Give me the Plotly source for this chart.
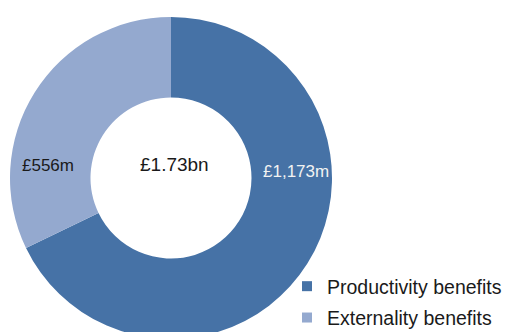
import plotly.graph_objects as go

categories = ["Productivity benefits", "Externality benefits"]
values = [1173, 556]
value_labels = ["£1,173m", "£556m"]
total_label = "£1.73bn"
colors = ["#4672A6", "#94A9CF"]

W, H = 505, 350

fig = go.Figure()
fig.add_trace(go.Pie(
    labels=categories, values=values, sort=False, direction="clockwise",
    rotation=0, hole=0.5, textinfo="none", showlegend=False,
    marker=dict(colors=colors, line=dict(width=0)),
    domain=dict(x=[10 / W, 332 / W], y=[1 - 339 / H, 1 - 17 / H]),
))

# legend entries
for i, (cat, col) in enumerate(zip(categories, colors)):
    fig.add_trace(go.Scatter(
        x=[None], y=[None], mode="markers", name=cat, legendgroup=cat,
        marker=dict(symbol="square", size=10, color=col),
    ))

def px(x, y):
    return x / W, 1 - y / H

ann = []
x, y = px(296, 171)
ann.append(dict(x=x, y=y, text=value_labels[0], font=dict(color="#F2F2F2", size=17)))
x, y = px(48, 165)
ann.append(dict(x=x, y=y, text=value_labels[1], font=dict(color="#1A1A1A", size=17)))
x, y = px(174, 164)
ann.append(dict(x=x, y=y, text=total_label, font=dict(color="#1A1A1A", size=19)))
for a in ann:
    a.update(xref="paper", yref="paper", showarrow=False, xanchor="center", yanchor="middle")

fig.update_layout(
    width=W, height=H, margin=dict(l=0, r=0, t=0, b=0, autoexpand=False),
    paper_bgcolor="white", plot_bgcolor="white",
    font=dict(family="Liberation Sans, Arial, sans-serif", color="#1A1A1A"),
    xaxis=dict(visible=False), yaxis=dict(visible=False),
    annotations=ann,
    legend=dict(x=(327 - 40) / W, xanchor="left", y=1 - 267 / H, yanchor="top",
                font=dict(size=19.5, color="#1A1A1A"), tracegroupgap=3,
                bgcolor="rgba(0,0,0,0)"),
)

post = ("document.body.style.margin='0';document.body.style.overflow='hidden';"
        "document.documentElement.style.overflow='hidden';")
fig.write_html("out.html", post_script=post, config={"displayModeBar": False})
